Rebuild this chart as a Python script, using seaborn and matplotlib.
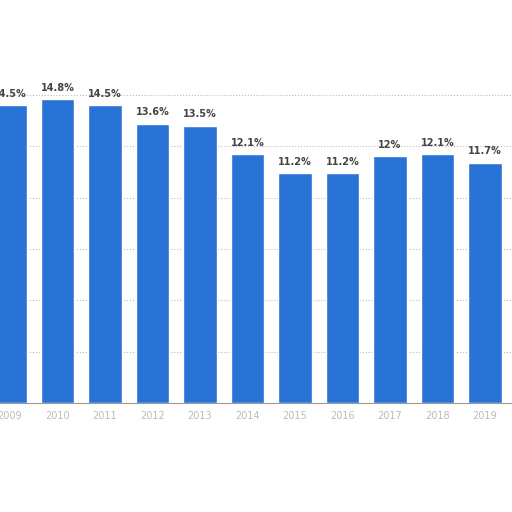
import pandas as pd
import seaborn as sns
import matplotlib.pyplot as plt

YEARS = ['2009', '2010', '2011', '2012', '2013', '2014', '2015', '2016', '2017', '2018', '2019']
SHARE = [14.5, 14.8, 14.5, 13.6, 13.5, 12.1, 11.2, 11.2, 12.0, 12.1, 11.7]

sns.set_style("white")

df = pd.DataFrame({'year': YEARS, 'share': SHARE})

fig = plt.figure(figsize=(5.12, 5.12), dpi=100)
ax = fig.add_axes([0, 0.213, 1, 0.642])

sns.barplot(data=df, x='year', y='share', color='#2a73d6', width=0.7, saturation=1, ax=ax)

for i, v in enumerate(SHARE):
    ax.text(i, v + 0.3, f"{v:g}%", ha='center', va='bottom',
            fontsize=7, fontweight='bold', color='#444444')

ax.set_xlim(-0.21, 10.57)
ax.set_ylim(0, 16)
ax.set_yticks([2.5, 5, 7.5, 10, 12.5, 15])
ax.yaxis.grid(True, linestyle=':', color='#bbbbbb', linewidth=0.8)
ax.set_axisbelow(True)
ax.set_yticklabels([])
ax.tick_params(axis='y', length=0)
ax.tick_params(axis='x', length=0, labelsize=7, labelcolor='#bbbbbb', pad=6)
ax.set_xlabel("")
ax.set_ylabel("")
for side in ['top', 'left', 'right']:
    ax.spines[side].set_visible(False)
ax.spines['bottom'].set_color('#999999')

fig.savefig('out.png', dpi=100)
